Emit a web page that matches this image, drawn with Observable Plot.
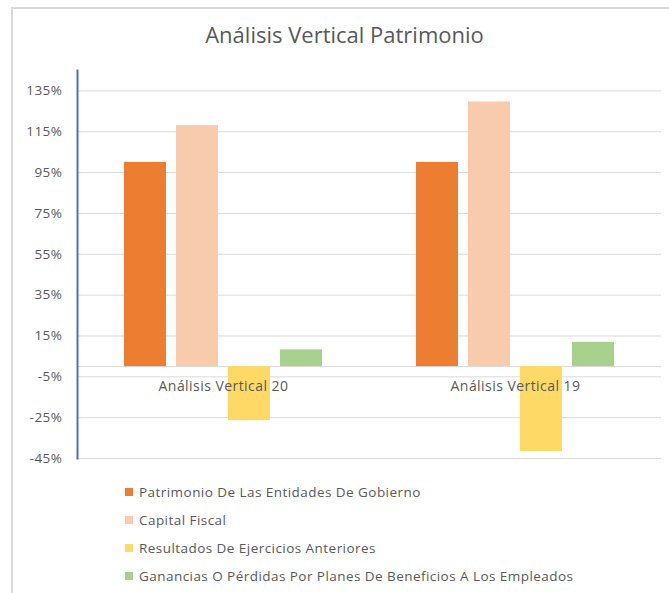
<!DOCTYPE html>
<html>
<head>
<meta charset="utf-8">
<script src="https://cdn.jsdelivr.net/npm/d3@7"></script>
<script src="https://cdn.jsdelivr.net/npm/@observablehq/plot@0.6"></script>
<style>
  html, body { margin: 0; padding: 0; background: #fff; }
  #wrap { position: relative; width: 669px; height: 593px; overflow: hidden; font-family: "Open Sans", Lato, sans-serif; }
  #border { position: absolute; left: 11px; top: 7px; width: 700px; height: 700px; border-left: 2px solid #d9d9d9; border-top: 2px solid #d9d9d9; box-sizing: border-box; }
  #title { position: absolute; left: 20px; right: 0; top: 19px; text-align: center; font-family: "Open Sans", sans-serif; font-size: 22px; color: #595959; }
  #chart { position: absolute; left: 0; top: 60px; }
  #legend { position: absolute; left: 125px; top: 478px; font-size: 13.5px; letter-spacing: 0.45px; color: #595959; }
  .item { height: 28px; display: flex; align-items: center; }
  .sw { width: 8px; height: 8px; margin-right: 6px; }
</style>
</head>
<body>
<div id="wrap">
  <div id="border"></div>
  <div id="title">Análisis Vertical Patrimonio</div>
  <div id="chart"></div>
  <div id="legend"></div>
</div>
<script>
const groups = ["Análisis Vertical 20", "Análisis Vertical 19"];
const series = [
  "Patrimonio De Las Entidades De Gobierno",
  "Capital Fiscal",
  "Resultados De Ejercicios Anteriores",
  "Ganancias O Pérdidas Por Planes De Beneficios A Los Empleados"
];
const colors = ["#ED7D31", "#F8CBAD", "#FFD966", "#A9D18E"];
const values20 = [100, 118, -26.5, 8.2];
const values19 = [100, 129.6, -41.6, 11.9];
const yTicks = [-45, -25, -5, 15, 35, 55, 75, 95, 115, 135];

const data = [];
series.forEach((s, i) => {
  data.push({group: groups[0], series: s, value: values20[i]});
  data.push({group: groups[1], series: s, value: values19[i]});
});

const chart = Plot.plot({
  width: 669,
  height: 410,
  marginLeft: 77,
  marginRight: 8,
  marginTop: 10,
  marginBottom: 12,
  style: {fontFamily: "'Open Sans', Lato, sans-serif", fontSize: "13px", color: "#595959", background: "transparent"},
  fx: {domain: groups, padding: 0, axis: null},
  x: {domain: series, axis: null, paddingInner: 0.2, paddingOuter: 0.88},
  y: {domain: [-45, 145], axis: null},
  color: {domain: series, range: colors},
  marks: [
    Plot.ruleY(yTicks, {stroke: "#d9d9d9", strokeWidth: 1}),
    Plot.ruleY([0], {stroke: "#d9d9d9", strokeWidth: 1}),
    Plot.barY(data, {fx: "group", x: "series", y: "value", fill: "series"}),
    Plot.text(groups, {fx: d => d, y: () => 0, text: d => d, dy: 20, fill: "#595959", fontSize: 14, fontFamily: "'Open Sans', sans-serif"}),
    Plot.axisY({ticks: yTicks, tickFormat: d => d + "%", tickSize: 0, tickPadding: 15, fontSize: 13.5, fill: "#595959", label: null}),
    Plot.frame({anchor: "left", stroke: "#4472C4", strokeWidth: 2, facetAnchor: "left"})
  ]
});
chart.querySelectorAll("text").forEach(t => {
  if (t.textContent.startsWith("Análisis")) t.style.letterSpacing = "0.45px";
  else if (t.textContent.endsWith("%")) t.style.letterSpacing = "0.5px";
});
document.getElementById("chart").appendChild(chart);

const legend = document.getElementById("legend");
series.forEach((s, i) => {
  const row = document.createElement("div");
  row.className = "item";
  const sw = document.createElement("span");
  sw.className = "sw";
  sw.style.background = colors[i];
  const t = document.createElement("span");
  t.textContent = s;
  row.appendChild(sw);
  row.appendChild(t);
  legend.appendChild(row);
});
</script>
</body>
</html>
